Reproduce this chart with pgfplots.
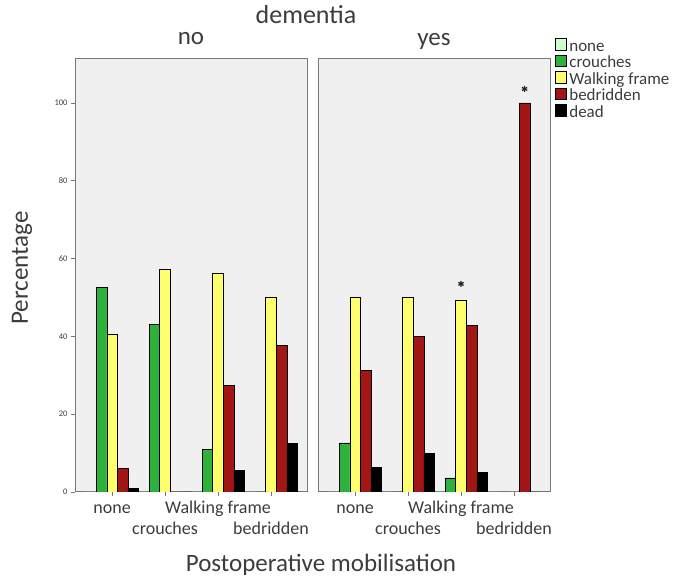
\documentclass[border=0pt]{standalone}
\usepackage{fontspec}
\setmainfont{Carlito}
\usepackage{pgfplots}
\pgfplotsset{compat=1.18}
\definecolor{cnone}{RGB}{204,255,204}
\definecolor{ccrouch}{RGB}{46,178,60}
\definecolor{cwalk}{RGB}{255,255,110}
\definecolor{cbed}{RGB}{163,22,22}
\definecolor{cdead}{RGB}{0,0,0}
\definecolor{bgc}{RGB}{240,240,240}
\definecolor{framec}{RGB}{120,120,120}
\definecolor{txt}{RGB}{60,60,60}
\pgfplotsset{
  mybar/.style={ybar, bar width=10.6pt, draw=black, line width=0.5pt,
    legend image code/.code={\draw[##1, draw=black, line width=0.5pt] (0pt,-2.5pt) rectangle (11pt,9pt);}},
  panel/.style={
    scale only axis, width=232pt, height=433pt, anchor=south west,
    xmin=-0.7, xmax=3.68, ymin=0, ymax=111.3,
    axis background/.style={fill=bgc},
    axis line style={draw=framec, line width=1pt},
    tick align=outside, major tick length=4pt,
    tick style={draw=framec, line width=0.8pt},
    xtick={0,1,2,3},
    xticklabels={none,{\raisebox{-21pt}{crouches}},Walking frame,{\raisebox{-21pt}{bedridden}}},
    xticklabel style={anchor=base, yshift=-18pt, font=\fontsize{18}{18}\selectfont, text=txt},
    xtick pos=left,
  }
}
\begin{document}
\begin{tikzpicture}[x=1pt,y=1pt]
\path[use as bounding box] (0,0) rectangle (681,577);
% left panel: dementia = no
\begin{axis}[panel, at={(75pt,85pt)},
  ytick={0,20,40,60,80,100}, ytick pos=left,
  yticklabel style={font=\fontsize{8.5}{8.5}\selectfont, text=txt},
  /pgf/number format/assume math mode=true]
\addplot[mybar, bar shift=-21.2pt, fill=cnone] coordinates {(0,0) (1,0) (2,0) (3,0)};
\addplot[mybar, bar shift=-10.6pt, fill=ccrouch] coordinates {(0,52.5) (1,43) (2,11) (3,0)};
\addplot[mybar, bar shift=0pt, fill=cwalk] coordinates {(0,40.5) (1,57.2) (2,56.3) (3,50)};
\addplot[mybar, bar shift=10.6pt, fill=cbed] coordinates {(0,6) (1,0) (2,27.5) (3,37.6)};
\addplot[mybar, bar shift=21.2pt, fill=cdead] coordinates {(0,1) (1,0) (2,5.6) (3,12.5)};
\end{axis}
% right panel: dementia = yes
\begin{axis}[panel, at={(318pt,85pt)}, ytick=\empty,
  legend style={at={(1.008,1.053)}, anchor=north west, draw=none, fill=none,
    font=\fontsize{17}{17}\selectfont, text=txt, legend cell align=left, row sep=-0.3pt,
    /tikz/every odd column/.append style={column sep=2pt},
    nodes={inner sep=0.8pt, text height=10.5pt, text depth=3pt}}]
\addplot[mybar, bar shift=-21.2pt, fill=cnone] coordinates {(0,0) (1,0) (2,0) (3,0)};
\addplot[mybar, bar shift=-10.6pt, fill=ccrouch] coordinates {(0,12.6) (1,0) (2,3.6) (3,0)};
\addplot[mybar, bar shift=0pt, fill=cwalk] coordinates {(0,50) (1,50) (2,49.3) (3,0)};
\addplot[mybar, bar shift=10.6pt, fill=cbed] coordinates {(0,31.3) (1,40) (2,42.8) (3,100)};
\addplot[mybar, bar shift=21.2pt, fill=cdead] coordinates {(0,6.3) (1,10) (2,5) (3,0)};
\addplot[only marks, mark=asterisk, mark size=3pt, line width=1.3pt, color=black!85, forget plot] coordinates {(2,53.5) (3.2,103.6)};
\legend{none,crouches,Walking frame,bedridden,dead}
\end{axis}
\node[font=\fontsize{26}{26}\selectfont, text=txt] at (306,562) {dementia};
\node[font=\fontsize{25}{25}\selectfont, text=txt] at (191,538) {no};
\node[font=\fontsize{25}{25}\selectfont, text=txt] at (434,536) {yes};
\node[rotate=90, font=\fontsize{25}{25}\selectfont, text=txt] at (22,309) {Percentage};
\node[font=\fontsize{25}{25}\selectfont, text=txt] at (321,12) {Postoperative mobilisation};
\end{tikzpicture}
\end{document}
